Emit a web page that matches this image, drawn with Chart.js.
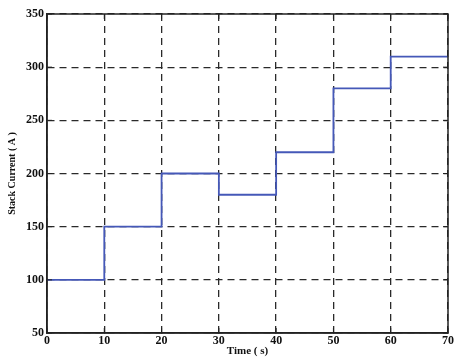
<!DOCTYPE html>
<html>
<head>
<meta charset="utf-8">
<script src="https://cdn.jsdelivr.net/npm/chart.js@4"></script>
<style>
  html, body { margin: 0; padding: 0; background: #fff; }
  #wrap { width: 455px; height: 358px; }
</style>
</head>
<body>
<div id="wrap"><canvas id="stackChart"></canvas></div>
<script>
// step profile of the stack current
const timeSteps = [0, 10, 20, 30, 40, 50, 60, 70];
const currentA = [100, 150, 200, 180, 220, 280, 310, 310];
const xTicks = [0, 10, 20, 30, 40, 50, 60, 70];
const yTicks = [50, 100, 150, 200, 250, 300, 350];

// frame on top/right plus inward tick marks, matlab style
const boxPlugin = {
    id: "box",
    afterDatasetsDraw(chart) {
        const { ctx, chartArea: a, scales } = chart;
        ctx.save();
        ctx.strokeStyle = "#222";
        ctx.lineWidth = 1.5;
        ctx.strokeRect(a.left, a.top, a.right - a.left, a.bottom - a.top);
        ctx.lineWidth = 1;
        ctx.beginPath();
        xTicks.forEach(v => {
            const x = scales.x.getPixelForValue(v);
            ctx.moveTo(x, a.bottom); ctx.lineTo(x, a.bottom - 5);
            ctx.moveTo(x, a.top); ctx.lineTo(x, a.top + 5);
        });
        yTicks.forEach(v => {
            const y = scales.y.getPixelForValue(v);
            ctx.moveTo(a.left, y); ctx.lineTo(a.left + 5, y);
            ctx.moveTo(a.right, y); ctx.lineTo(a.right - 5, y);
        });
        ctx.stroke();
        ctx.restore();
    }
};

const tickFont = { family: "Liberation Serif", size: 12, weight: "bold" };

new Chart(document.getElementById("stackChart"), {
    type: "line",
    data: {
        datasets: [{
            data: timeSteps.map((t, i) => ({ x: t, y: currentA[i] })),
            stepped: "before",
            borderColor: "#4558b8",
            borderWidth: 1.8,
            pointRadius: 0,
            fill: false
        }]
    },
    options: {
        responsive: true,
        maintainAspectRatio: false,
        animation: false,
        layout: { padding: { left: 0, right: 5, top: 14, bottom: 0 } },
        plugins: { legend: { display: false }, tooltip: { enabled: false } },
        scales: {
            x: {
                type: "linear",
                min: 0, max: 70,
                afterBuildTicks: s => { s.ticks = xTicks.map(v => ({ value: v })); },
                afterFit: s => { s.height = 25; },
                ticks: { color: "#111", font: tickFont, padding: 1, maxRotation: 0 },
                grid: { color: "#2a2a2a", lineWidth: 1.3, tickLength: 0 },
                border: { display: true, color: "#222", width: 1.5, dash: [7, 5] },
                title: {
                    display: true, text: "Time ( s)", color: "#111",
                    font: { family: "Liberation Serif", size: 11, weight: "bold" },
                    padding: { top: -1, bottom: 0 }
                }
            },
            y: {
                min: 50, max: 350,
                afterBuildTicks: s => { s.ticks = yTicks.map(v => ({ value: v })); },
                afterFit: s => { s.width = 47; },
                ticks: { color: "#111", font: tickFont, padding: 3 },
                grid: { color: "#2a2a2a", lineWidth: 1.3, tickLength: 0 },
                border: { display: true, color: "#222", width: 1.5, dash: [7, 5] },
                title: {
                    display: true, text: "Stack Current ( A )", color: "#111",
                    font: { family: "Liberation Serif", size: 10, weight: "bold" },
                    padding: { top: 6, bottom: 0 }
                }
            }
        }
    },
    plugins: [boxPlugin]
});
</script>
</body>
</html>
